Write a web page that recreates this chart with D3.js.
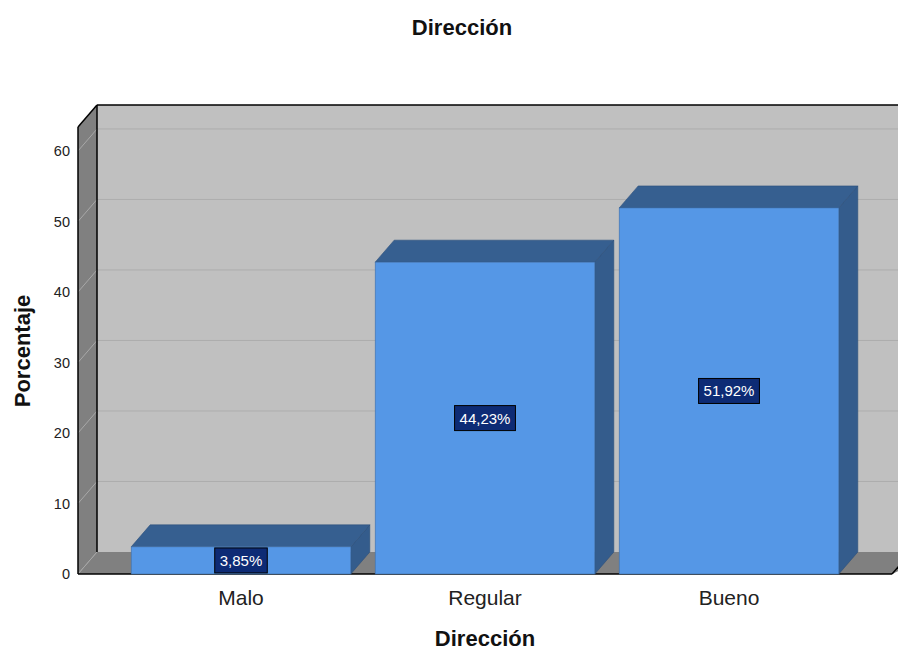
<!DOCTYPE html>
<html>
<head>
<meta charset="utf-8">
<script src="https://cdn.jsdelivr.net/npm/d3@7"></script>
<style>
  html, body { margin: 0; padding: 0; background: #fff; }
  svg { display: block; font-family: Arial, "Liberation Sans", sans-serif; }
</style>
</head>
<body>
<svg id="chart" width="898" height="652"></svg>
<script>
const categories = ["Malo", "Regular", "Bueno"];
const values = [3.85, 44.23, 51.92];
const valueLabels = ["3,85%", "44,23%", "51,92%"];
const yTicks = [0, 10, 20, 30, 40, 50, 60];
const chartTitle = "Dirección";
const xTitle = "Dirección";
const yTitle = "Porcentaje";

const svg = d3.select("#chart");
const W = 898, H = 652;
const dx = 19, dy = -22;            // depth offset of 3D box
const left = 78, right = 892, bottom = 574;

const y = d3.scaleLinear().domain([0, 63.4]).range([bottom, 127]);
const x = d3.scaleBand().domain(categories).range([119, 851])
  .paddingInner(0.1).paddingOuter(0.05);

const yTop = y(63.4);
const g = svg.append("g");

// back wall
g.append("rect").attr("x", left + dx).attr("y", yTop + dy)
  .attr("width", W - left).attr("height", bottom - yTop)
  .attr("fill", "#c0c0c0");
// left wall
g.append("polygon")
  .attr("points", [[left, yTop], [left + dx, yTop + dy], [left + dx, bottom + dy], [left, bottom]].join(" "))
  .attr("fill", "#808080");
// floor
g.append("polygon")
  .attr("points", [[left, bottom], [left + dx, bottom + dy], [W + 40, bottom + dy], [right, bottom]].join(" "))
  .attr("fill", "#808080");

// gridlines
yTicks.forEach(t => {
  if (t > 0) {
    g.append("line").attr("x1", left + dx).attr("x2", W + 40)
      .attr("y1", y(t) + dy).attr("y2", y(t) + dy)
      .attr("stroke", "#adadad").attr("stroke-width", 1);
  }
  g.append("line").attr("x1", left).attr("y1", y(t))
    .attr("x2", left + dx).attr("y2", y(t) + dy)
    .attr("stroke", "#a8a8a8").attr("stroke-width", 1);
});

// edges
const edge = (x1, y1, x2, y2) => g.append("line")
  .attr("x1", x1).attr("y1", y1).attr("x2", x2).attr("y2", y2)
  .attr("stroke", "#000").attr("stroke-width", 1.5);
edge(left, yTop, left, bottom);
edge(left, yTop, left + dx, yTop + dy);
edge(left + dx, yTop + dy, left + dx, bottom + dy);
edge(left + dx, yTop + dy, W + 40, yTop + dy);
edge(left, bottom, right, bottom);
edge(right, bottom, right + dx, bottom + dy);

// bars
const bars = g.selectAll("g.bar").data(categories.map((c, i) => ({ c, v: values[i], l: valueLabels[i] })))
  .enter().append("g").attr("class", "bar");

bars.each(function (d) {
  const b = d3.select(this);
  const x0 = x(d.c), x1 = x(d.c) + x.bandwidth();
  const yt = y(d.v);
  // right side
  b.append("polygon")
    .attr("points", [[x1, yt], [x1 + dx, yt + dy], [x1 + dx, bottom + dy], [x1, bottom]].join(" "))
    .attr("fill", "#345c8c").attr("stroke", "#2c4f7a").attr("stroke-width", 0.6);
  // top
  b.append("polygon")
    .attr("points", [[x0, yt], [x0 + dx, yt + dy], [x1 + dx, yt + dy], [x1, yt]].join(" "))
    .attr("fill", "#365f90").attr("stroke", "#2c4f7a").attr("stroke-width", 0.6);
  // front
  b.append("rect").attr("x", x0).attr("y", yt)
    .attr("width", x.bandwidth()).attr("height", bottom - yt)
    .attr("fill", "#5597e6").attr("stroke", "#3f6fa8").attr("stroke-width", 0.6);

  // data label
  const cx = x0 + x.bandwidth() / 2, cy = (yt + bottom) / 2;
  const t = b.append("text").attr("x", cx).attr("y", cy)
    .attr("text-anchor", "middle").attr("dominant-baseline", "central")
    .attr("font-size", 15).attr("fill", "#fff").text(d.l);
  const bb = t.node().getBBox();
  b.insert("rect", "text")
    .attr("x", bb.x - 5).attr("y", cy - 12.5)
    .attr("width", bb.width + 10).attr("height", 25)
    .attr("fill", "#0d2b75").attr("stroke", "#000").attr("stroke-width", 1);
});

// y axis
const yAxis = svg.append("g").attr("transform", `translate(${left},0)`)
  .call(d3.axisLeft(y).tickValues(yTicks).tickSize(0).tickPadding(8));
yAxis.select(".domain").remove();
yAxis.selectAll("text").attr("font-size", 14.5).attr("fill", "#222")
  .attr("font-family", "Arial, 'Liberation Sans', sans-serif");

// x axis
const xAxis = svg.append("g").attr("transform", `translate(0,${bottom})`)
  .call(d3.axisBottom(x).tickSize(0).tickPadding(16));
xAxis.select(".domain").remove();
xAxis.selectAll("text").attr("font-size", 21).attr("fill", "#222")
  .attr("font-family", "Arial, 'Liberation Sans', sans-serif");

// titles
svg.append("text").attr("x", 462).attr("y", 35).attr("text-anchor", "middle")
  .attr("font-size", 22).attr("font-weight", "bold").attr("fill", "#111").text(chartTitle);
svg.append("text").attr("x", 485).attr("y", 646).attr("text-anchor", "middle")
  .attr("font-size", 22).attr("font-weight", "bold").attr("fill", "#111").text(xTitle);
svg.append("text").attr("transform", "translate(30,351) rotate(-90)").attr("text-anchor", "middle")
  .attr("font-size", 22).attr("font-weight", "bold").attr("fill", "#111").text(yTitle);
</script>
</body>
</html>
